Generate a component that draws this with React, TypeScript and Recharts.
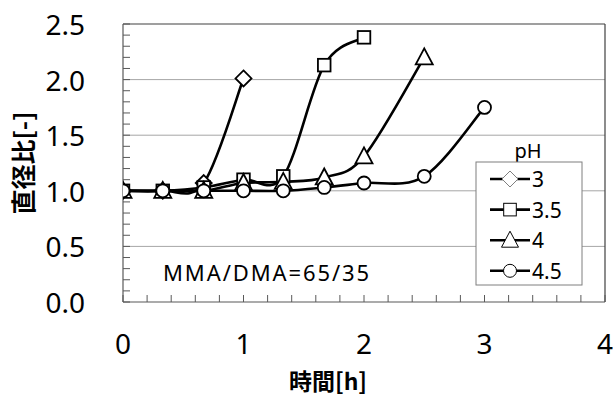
import React from 'react';
import { LineChart, Line, XAxis, YAxis, ReferenceLine } from 'recharts';

const times = [0, 0.33, 0.67, 1, 1.33, 1.67, 2, 2.5, 3];
const seriesNames = ['3', '3.5', '4', '4.5'];
const ph3 = [1.0, 1.0, 1.07, 2.01];
const ph35 = [1.0, 1.0, 1.03, 1.1, 1.13, 2.13, 2.38];
const ph4 = [1.0, 1.0, 1.0, 1.07, 1.08, 1.12, 1.31, 2.2];
const ph45 = [1.0, 1.0, 1.0, 1.0, 1.0, 1.03, 1.07, 1.13, 1.75];
const xTicks = [0, 0.2, 0.4, 0.6, 0.8, 1, 1.2, 1.4, 1.6, 1.8, 2, 2.2, 2.4, 2.6, 2.8, 3, 3.2, 3.4, 3.6, 3.8, 4];
const xLabels = [0, 1, 2, 3, 4];
const yTicks = [0, 0.1, 0.2, 0.3, 0.4, 0.5, 0.6, 0.7, 0.8, 0.9, 1.0, 1.1, 1.2, 1.3, 1.4, 1.5, 1.6, 1.7, 1.8, 1.9, 2.0, 2.1, 2.2, 2.3, 2.4, 2.5];
const yLabels = [0, 0.5, 1.0, 1.5, 2.0, 2.5];
const yGrid = [0.5, 1.0, 1.5, 2.0];
const xTitle = '時間[h]';
const yTitle = '直径比[-]';
const legendTitle = 'pH';
const annotation = 'MMA/DMA=65/35';

const W = 613;
const H = 397;
const NUM_FONT = '"Noto Sans", sans-serif';
const CJK_FONT = '"Noto Sans CJK JP", sans-serif';

const excelCurve = (context: any) => {
  let pts: number[][] = [];
  return {
    areaStart() {},
    areaEnd() {},
    lineStart() {
      pts = [];
    },
    point(x: number, y: number) {
      pts.push([+x, +y]);
    },
    lineEnd() {
      const n = pts.length;
      if (!n) return;
      context.moveTo(pts[0][0], pts[0][1]);
      for (let i = 0; i < n - 1; i++) {
        const p0 = pts[i - 1] || pts[i];
        const p1 = pts[i];
        const p2 = pts[i + 1];
        const p3 = pts[i + 2] || p2;
        context.bezierCurveTo(
          p1[0] + (p2[0] - p0[0]) / 6,
          p1[1] + (p2[1] - p0[1]) / 6,
          p2[0] - (p3[0] - p1[0]) / 6,
          p2[1] - (p3[1] - p1[1]) / 6,
          p2[0],
          p2[1]
        );
      }
    },
  };
};

type MarkerKind = 'diamond' | 'square' | 'triangle' | 'circle';

const Marker = ({ kind, cx, cy, stroke, sw }: { kind: MarkerKind; cx: number; cy: number; stroke: string; sw: number }) => {
  if (kind === 'diamond') {
    const s = 8;
    return <path d={`M${cx} ${cy - s}L${cx + s} ${cy}L${cx} ${cy + s}L${cx - s} ${cy}Z`} fill="#fff" stroke={stroke} strokeWidth={sw} />;
  }
  if (kind === 'square') {
    const s = 6.3;
    return <rect x={cx - s} y={cy - s} width={2 * s} height={2 * s} fill="#fff" stroke={stroke} strokeWidth={sw} />;
  }
  if (kind === 'triangle') {
    return <path d={`M${cx} ${cy - 9}L${cx + 8.5} ${cy + 7}L${cx - 8.5} ${cy + 7}Z`} fill="#fff" stroke={stroke} strokeWidth={sw} />;
  }
  return <circle cx={cx} cy={cy} r={6.5} fill="#fff" stroke={stroke} strokeWidth={sw} />;
};

const series: { name: string; values: number[]; kind: MarkerKind }[] = [
  { name: seriesNames[0], values: ph3, kind: 'diamond' },
  { name: seriesNames[1], values: ph35, kind: 'square' },
  { name: seriesNames[2], values: ph4, kind: 'triangle' },
  { name: seriesNames[3], values: ph45, kind: 'circle' },
];

const XTick = (props: any) => {
  const { x, y, payload } = props;
  const v = payload.value;
  if (!xLabels.some((l) => Math.abs(l - v) < 1e-6)) return <g />;
  return (
    <text x={x} y={y} textAnchor="middle" dominantBaseline="central" fontSize={28} fontFamily={NUM_FONT} fill="#000">
      {Math.round(v)}
    </text>
  );
};

const YTick = (props: any) => {
  const { x, y, payload } = props;
  const v = payload.value;
  if (!yLabels.some((l) => Math.abs(l - v) < 1e-6)) return <g />;
  return (
    <text x={x} y={y} textAnchor="end" dominantBaseline="central" fontSize={28} fontFamily={NUM_FONT} fill="#000">
      {v.toFixed(1)}
    </text>
  );
};

export default function App() {
  return (
    <div style={{ position: 'absolute', left: 0, top: 0, width: W, height: H, background: '#fff' }}>
      <LineChart width={W} height={H} margin={{ top: 24, right: 8, left: 0, bottom: 0 }}>
        {yGrid.map((g) => (
          <ReferenceLine key={g} y={g} stroke="#A6A6A6" strokeWidth={1} />
        ))}
        <ReferenceLine y={2.5} stroke="#404040" strokeWidth={1.2} />
        <ReferenceLine x={4} stroke="#404040" strokeWidth={1.2} />
        <XAxis
          dataKey="t"
          type="number"
          domain={[0, 4]}
          ticks={xTicks}
          interval={0}
          height={95}
          tickSize={-7}
          tickMargin={48}
          tick={XTick}
          stroke="#595959"
          axisLine={{ stroke: '#595959', strokeWidth: 1.2 }}
          tickLine={{ stroke: '#595959' }}
          allowDataOverflow
        />
        <YAxis
          type="number"
          domain={[0, 2.5]}
          ticks={yTicks}
          interval={0}
          width={123}
          tickSize={-7}
          tickMargin={45}
          tick={YTick}
          stroke="#595959"
          axisLine={{ stroke: '#595959', strokeWidth: 1.2 }}
          tickLine={{ stroke: '#595959' }}
          allowDataOverflow
        />
        {series.map((s) => (
          <Line
            key={s.name}
            name={s.name}
            data={s.values.map((v, i) => ({ t: times[i], v }))}
            dataKey="v"
            type={excelCurve as any}
            stroke="#000"
            strokeWidth={2.6}
            isAnimationActive={false}
            dot={(p: any) => <Marker key={`${s.name}-${p.index}`} kind={s.kind} cx={p.cx} cy={p.cy} stroke="#000" sw={1.8} />}
            activeDot={false}
          />
        ))}
      </LineChart>
      <svg width={W} height={H} style={{ position: 'absolute', left: 0, top: 0, pointerEvents: 'none' }}>
        <text x={163} y={272} dominantBaseline="central" fontSize={22} letterSpacing={1.9} fontFamily={NUM_FONT} fill="#000">
          {annotation}
        </text>
        <text x={328} y={390} textAnchor="middle" fontSize={23} fontWeight="bold" fontFamily={CJK_FONT} fill="#000">
          {xTitle}
        </text>
        <text
          x={22}
          y={163}
          textAnchor="middle"
          dominantBaseline="central"
          fontSize={25}
          fontWeight="bold"
          fontFamily={CJK_FONT}
          fill="#000"
          transform="rotate(-90 22 163)"
        >
          {yTitle}
        </text>
        <text x={528} y={150} textAnchor="middle" dominantBaseline="central" fontSize={20} fontFamily={NUM_FONT} fill="#000">
          {legendTitle}
        </text>
        <rect x={476} y={162} width={106} height={123} fill="#fff" stroke="#7F7F7F" strokeWidth={1} />
        {series.map((s, i) => {
          const cy = 179 + i * 30.6;
          return (
            <g key={s.name}>
              <line x1={490} x2={530} y1={cy} y2={cy} stroke="#000" strokeWidth={2.6} />
              <Marker kind={s.kind} cx={510} cy={cy} stroke={s.kind === 'diamond' ? '#7F7F7F' : '#000'} sw={1} />
              <text x={532} y={cy} dominantBaseline="central" fontSize={21} fontFamily={NUM_FONT} fill="#000">
                {s.name}
              </text>
            </g>
          );
        })}
      </svg>
    </div>
  );
}
